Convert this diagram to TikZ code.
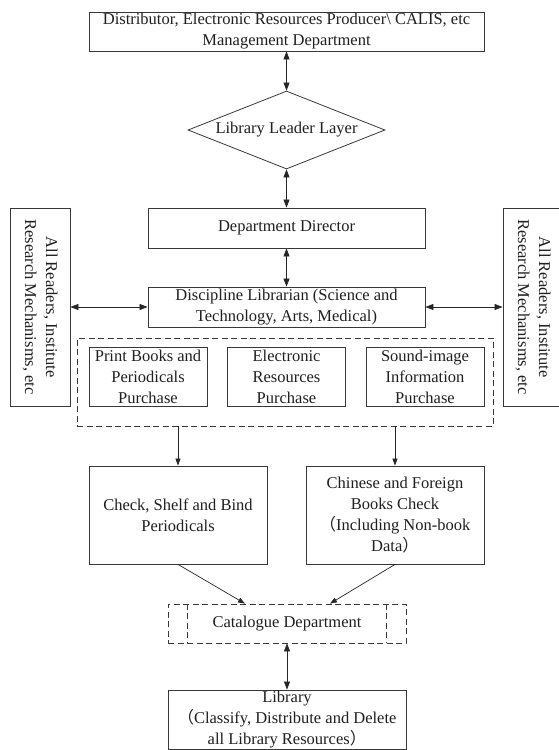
\documentclass[tikz,border=0pt]{standalone}
\usepackage{fontspec}
\setmainfont{Liberation Serif}
\newfontfamily\cjkfont{Noto Sans CJK SC}
\usetikzlibrary{shapes.geometric,arrows.meta,calc}
\newcommand{\lpar}{{\cjkfont （}}
\newcommand{\rpar}{{\cjkfont ）}}
\begin{document}
\begin{tikzpicture}[x=1pt,y=-1pt,
  every node/.style={font=\fontsize{16.5}{21}\selectfont, text=black!88},
  box/.style={draw=black!78, line width=0.8pt, rectangle, inner sep=0pt, align=center},
  dbox/.style={draw=black!78, line width=0.8pt, dash pattern=on 6pt off 3.5pt},
  arr/.style={line width=0.7pt, draw=black!85, -{Triangle[length=7pt,width=5pt]}},
  darr/.style={line width=0.7pt, draw=black!85, {Triangle[length=8pt,width=6pt]}-{Triangle[length=8pt,width=6pt]}},
]
\useasboundingbox (0,0) rectangle (558,750);
\node[box, minimum width=395pt, minimum height=39pt] (top) at (286.5,31.5)
  {Distributor, Electronic Resources Producer\textbackslash\ CALIS, etc\\Management Department};
\node[diamond, draw=black!78, line width=0.8pt, inner sep=0pt, aspect=2.5,
  minimum width=197pt, minimum height=78pt] (dia) at (286.5,130) {Library Leader Layer};
\node[box, minimum width=277pt, minimum height=40pt] (dir) at (286.5,228) {Department Director};
\node[box, minimum width=277pt, minimum height=40pt] (disc) at (286.5,307)
  {Discipline Librarian (Science and\\Technology, Arts, Medical)};
\node[box, rotate=-90, minimum width=198pt, minimum height=60pt] (left) at (40,307)
  {All Readers, Institute\\Research Mechanisms, etc};
\node[box, rotate=-90, minimum width=198pt, minimum height=60pt] (right) at (533,307)
  {All Readers, Institute\\Research Mechanisms, etc};
\node[dbox, rectangle, minimum width=416pt, minimum height=88pt, inner sep=0pt] (purch) at (285,382) {};
\node[box, minimum width=118pt, minimum height=59pt] (print) at (148,376.5)
  {Print Books and\\Periodicals\\Purchase};
\node[box, minimum width=118pt, minimum height=59pt] (elec) at (286.5,376.5)
  {Electronic\\Resources\\Purchase};
\node[box, minimum width=118pt, minimum height=59pt] (sound) at (425,376.5)
  {Sound-image\\Information\\Purchase};
\node[box, minimum width=178pt, minimum height=98pt] (check) at (178,515)
  {Check, Shelf and Bind\\Periodicals};
\node[box, minimum width=178pt, minimum height=98pt] (chin) at (395,515)
  {Chinese and Foreign\\Books Check\\\lpar Including Non-book\\Data\rpar};
\node[dbox, rectangle, minimum width=238pt, minimum height=39pt, inner sep=0pt] (cat) at (287,623.5)
  {Catalogue Department};
\draw[dbox] ($(cat.north west)+(20,0)$) -- ($(cat.south west)+(20,0)$);
\draw[dbox] ($(cat.north east)+(-20,0)$) -- ($(cat.south east)+(-20,0)$);
\node[box, minimum width=238pt, minimum height=59.5pt] (lib) at (287,719.75)
  {Library\\\lpar Classify, Distribute and Delete\\all Library Resources\rpar};
\draw[darr] (top.south) -- (dia.north);
\draw[darr] (dia.south) -- (dir.north);
\draw[darr] (dir.south) -- (disc.north);
\draw[darr] (left.north) -- (disc.west);
\draw[darr] (disc.east) -- (right.south);
\draw[arr] (purch.south -| check.north) -- (check.north);
\draw[arr] (purch.south -| chin.north) -- (chin.north);
\draw[arr] (check.south) -- ($(cat.north west)!0.324!(cat.north east)$);
\draw[arr] (chin.south) -- ($(cat.north west)!0.68!(cat.north east)$);
\draw[darr] (cat.south) -- (lib.north);
\end{tikzpicture}
\end{document}
